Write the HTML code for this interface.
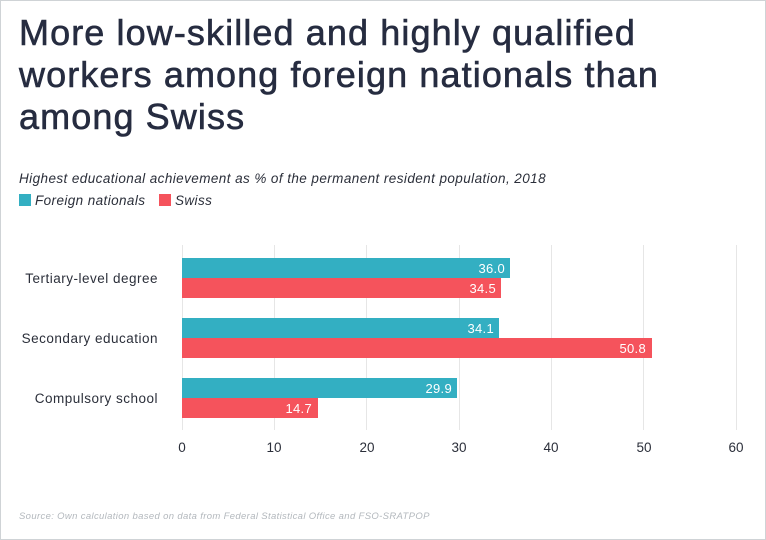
<!DOCTYPE html>
<html><head><meta charset="utf-8"><style>
html,body{margin:0;padding:0}
body{width:766px;height:540px;overflow:hidden;background:#fff;font-family:"Liberation Sans",sans-serif;position:relative}
.frame{position:absolute;left:0;top:0;width:764px;height:538px;border:1px solid #cfd3d6}
h1{position:absolute;left:19px;top:12px;margin:0;font-size:36px;line-height:42px;font-weight:normal;color:#262c40;letter-spacing:1.1px;-webkit-text-stroke:0.6px #262c40;white-space:nowrap}
.sub{position:absolute;left:19px;top:171px;font-size:13.5px;font-style:italic;color:#2b2f3a;letter-spacing:0.42px;white-space:nowrap}
.leg{position:absolute;top:193px;font-size:13.5px;font-style:italic;color:#2b2f3a;letter-spacing:0.4px}
.sw{display:inline-block;width:12px;height:12px;vertical-align:-1px;margin-right:4px}
.src{position:absolute;left:19px;top:511px;font-size:9.5px;font-style:italic;color:#b3b8bd;letter-spacing:0.35px;white-space:nowrap}
</style></head><body>
<div class="frame"></div>
<h1>More low-skilled and highly qualified<br>workers among foreign nationals than<br>among Swiss</h1>
<div class="sub">Highest educational achievement as % of the permanent resident population, 2018</div>
<div class="leg" style="left:19px"><span class="sw" style="background:#33afc2"></span>Foreign nationals</div>
<div class="leg" style="left:159px"><span class="sw" style="background:#f5535c"></span>Swiss</div>
<svg style="position:absolute;left:0;top:0" width="766" height="540" font-family="Liberation Sans, sans-serif">
<g stroke="#e6e6e6" stroke-width="1">
<line x1="182.5" y1="245" x2="182.5" y2="430"/><line x1="274.5" y1="245" x2="274.5" y2="430"/><line x1="366.5" y1="245" x2="366.5" y2="430"/><line x1="459.5" y1="245" x2="459.5" y2="430"/><line x1="551.5" y1="245" x2="551.5" y2="430"/><line x1="643.5" y1="245" x2="643.5" y2="430"/><line x1="736.5" y1="245" x2="736.5" y2="430"/>
</g>
<g fill="#33afc2"><rect x="182" y="258" width="328" height="20"/><rect x="182" y="318" width="317" height="20"/><rect x="182" y="378" width="275" height="20"/></g>
<g fill="#f5535c"><rect x="182" y="278" width="319" height="20"/><rect x="182" y="338" width="470" height="20"/><rect x="182" y="398" width="136" height="20"/></g>
<g fill="#fff" font-size="13" text-anchor="end" letter-spacing="0.3">
<text x="505" y="273">36.0</text><text x="496" y="293">34.5</text>
<text x="494" y="333">34.1</text><text x="646" y="353">50.8</text>
<text x="452" y="393">29.9</text><text x="312" y="413">14.7</text>
</g>
<g fill="#2b2f3a" font-size="13.5" text-anchor="end" letter-spacing="0.5">
<text x="158" y="283">Tertiary-level degree</text>
<text x="158" y="343">Secondary education</text>
<text x="158" y="403">Compulsory school</text>
</g>
<g fill="#2b2f3a" font-size="13.5" text-anchor="middle">
<text x="182" y="452">0</text><text x="274" y="452">10</text><text x="367" y="452">20</text><text x="459" y="452">30</text><text x="551" y="452">40</text><text x="644" y="452">50</text><text x="736" y="452">60</text>
</g>
</svg>
<div class="src">Source: Own calculation based on data from Federal Statistical Office and FSO-SRATPOP</div>
</body></html>
